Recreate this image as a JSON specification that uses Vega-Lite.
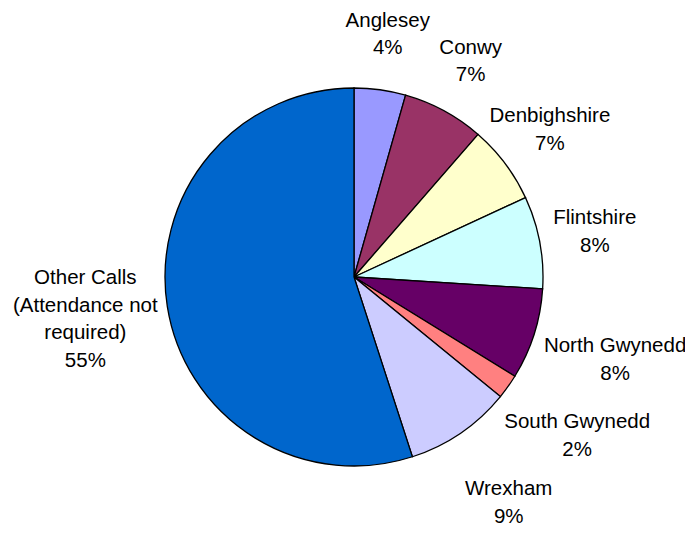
{
  "$schema": "https://vega.github.io/schema/vega-lite/v6.json",
  "width": 662,
  "height": 522,
  "padding": {"left": 23, "top": 16, "right": 0, "bottom": 0},
  "autosize": {"type": "none"},
  "background": "white",
  "view": {"stroke": null},
  "data": {
    "values": [
      {"idx": 1, "region": "Anglesey", "value": 4.4, "label": "Anglesey\n4%"},
      {"idx": 2, "region": "Conwy", "value": 7.0, "label": "Conwy\n7%"},
      {"idx": 3, "region": "Denbighshire", "value": 6.7, "label": "Denbighshire\n7%"},
      {"idx": 4, "region": "Flintshire", "value": 7.9, "label": "Flintshire\n8%"},
      {"idx": 5, "region": "North Gwynedd", "value": 7.8, "label": "North Gwynedd\n8%"},
      {"idx": 6, "region": "South Gwynedd", "value": 2.1, "label": "South Gwynedd\n2%"},
      {"idx": 7, "region": "Wrexham", "value": 9.1, "label": "Wrexham\n9%"},
      {"idx": 8, "region": "Other Calls (Attendance not required)", "value": 55.0, "label": "Other Calls\n(Attendance not\nrequired)\n55%"}
    ]
  },
  "layer": [
    {
      "mark": {"type": "arc", "outerRadius": 189, "stroke": "black", "strokeWidth": 1.3},
      "encoding": {
        "theta": {"field": "value", "type": "quantitative", "stack": true, "scale": {"domain": [0, 100]}},
        "order": {"field": "idx", "type": "quantitative"},
        "color": {
          "field": "region",
          "type": "nominal",
          "legend": null,
          "scale": {
            "domain": ["Anglesey", "Conwy", "Denbighshire", "Flintshire", "North Gwynedd", "South Gwynedd", "Wrexham", "Other Calls (Attendance not required)"],
            "range": ["#9999FF", "#993366", "#FFFFCC", "#CCFFFF", "#660066", "#FF8080", "#CCCCFF", "#0066CC"]
          }
        }
      }
    },
    {
      "transform": [
        {"stack": "value", "groupby": [], "sort": [{"field": "idx", "order": "ascending"}], "as": ["v0", "v1"]},
        {"calculate": "(datum.v0 + datum.v1) / 2", "as": "mid"},
        {"filter": "datum.idx <= 4"}
      ],
      "mark": {"type": "text", "radius": 245, "dy": -13.75, "font": "Liberation Sans", "fontSize": 20.5, "lineHeight": 27.5, "lineBreak": "\n", "align": "center", "baseline": "middle", "color": "black"},
      "encoding": {
        "theta": {"field": "mid", "type": "quantitative", "stack": null, "scale": {"domain": [0, 100]}},
        "text": {"field": "label", "type": "nominal"}
      }
    },
    {
      "transform": [
        {"stack": "value", "groupby": [], "sort": [{"field": "idx", "order": "ascending"}], "as": ["v0", "v1"]},
        {"calculate": "(datum.v0 + datum.v1) / 2", "as": "mid"},
        {"filter": "datum.idx >= 5 && datum.idx <= 7"}
      ],
      "mark": {"type": "text", "radius": 274, "dy": -13.75, "font": "Liberation Sans", "fontSize": 20.5, "lineHeight": 27.5, "lineBreak": "\n", "align": "center", "baseline": "middle", "color": "black"},
      "encoding": {
        "theta": {"field": "mid", "type": "quantitative", "stack": null, "scale": {"domain": [0, 100]}},
        "text": {"field": "label", "type": "nominal"}
      }
    },
    {
      "transform": [
        {"stack": "value", "groupby": [], "sort": [{"field": "idx", "order": "ascending"}], "as": ["v0", "v1"]},
        {"calculate": "(datum.v0 + datum.v1) / 2", "as": "mid"},
        {"filter": "datum.idx == 8"}
      ],
      "mark": {"type": "text", "radius": 272, "dy": -41.25, "font": "Liberation Sans", "fontSize": 20.5, "lineHeight": 27.5, "lineBreak": "\n", "align": "center", "baseline": "middle", "color": "black"},
      "encoding": {
        "theta": {"field": "mid", "type": "quantitative", "stack": null, "scale": {"domain": [0, 100]}},
        "text": {"field": "label", "type": "nominal"}
      }
    }
  ]
}
